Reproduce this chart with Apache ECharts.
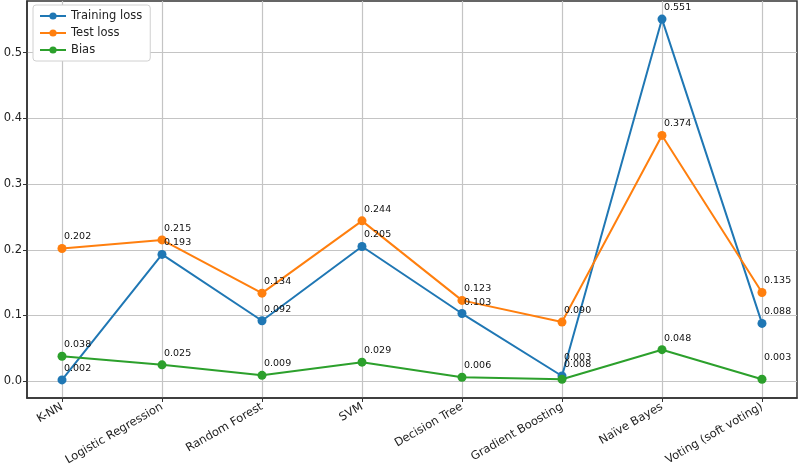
<!DOCTYPE html>
<html>
<head>
<meta charset="utf-8">
<script src="https://cdn.jsdelivr.net/npm/echarts@6/dist/echarts.min.js"></script>
<style>
  html, body { margin: 0; padding: 0; background: #fff; }
  #main { width: 800px; height: 469px; }
</style>
</head>
<body>
<div id="main"></div>
<script>
var categories = ['K-NN', 'Logistic Regression', 'Random Forest', 'SVM', 'Decision Tree', 'Gradient Boosting', 'Naïve Bayes', 'Voting (soft voting)'];
var trainingLoss = [0.002, 0.193, 0.092, 0.205, 0.103, 0.008, 0.551, 0.088];
var testLoss = [0.202, 0.215, 0.134, 0.244, 0.123, 0.090, 0.374, 0.135];
var bias = [0.038, 0.025, 0.009, 0.029, 0.006, 0.003, 0.048, 0.003];
var yTicks = [0.0, 0.1, 0.2, 0.3, 0.4, 0.5];

// 标注文字在这两个点上抬高一些(原图如此)
var labelLift = { 'Bias': { 5: -10, 7: -10 } };

var myChart = echarts.init(document.getElementById('main'));

function makeSeries(name, values, color) {
  var data = values.map(function (v, i) {
    var item = { value: [i, v] };
    if (labelLift[name] && labelLift[name][i] !== undefined) {
      item.label = { offset: [2, labelLift[name][i]] };
    }
    return item;
  });
  return {
    name: name,
    type: 'line',
    data: data,
    symbol: 'circle',
    symbolSize: 9,
    lineStyle: { color: color, width: 2 },
    itemStyle: { color: color },
    label: {
      show: true,
      position: 'top',
      distance: 2,
      align: 'left',
      offset: [2, 0],
      fontSize: 9.5,
      fontFamily: 'DejaVu Sans',
      color: '#111',
      formatter: function (p) { return p.value[1].toFixed(3); }
    },
    emphasis: { disabled: true },
    animation: false
  };
}

var option = {
  backgroundColor: '#fff',
  textStyle: { fontFamily: 'DejaVu Sans' },
  grid: {
    left: 27, right: 3, top: 1, bottom: 71,
    show: true, borderColor: '#333', borderWidth: 1.5, backgroundColor: 'transparent'
  },
  legend: {
    orient: 'vertical',
    left: 33, top: 5,
    padding: [5, 8, 5, 6],
    itemGap: 5,
    itemWidth: 26,
    itemHeight: 9,
    backgroundColor: '#fff',
    borderColor: '#d0d0d0',
    borderWidth: 1,
    borderRadius: 3,
    textStyle: { fontSize: 11.5, color: '#222', fontFamily: 'DejaVu Sans' },
    data: ['Training loss', 'Test loss', 'Bias']
  },
  xAxis: {
    type: 'value',
    min: -0.35,
    max: 7.35,
    axisLine: { onZero: false, lineStyle: { color: '#333', width: 1.5 } },
    axisTick: { show: true, length: 4, customValues: categories.map(function (c, i) { return i; }), lineStyle: { color: '#333' } },
    axisLabel: {
      customValues: categories.map(function (c, i) { return i; }),
      rotate: 30,
      fontSize: 11.5,
      color: '#222',
      margin: 8,
      formatter: function (v) { return categories[Math.round(v)]; }
    },
    splitLine: { show: true, lineStyle: { color: '#c4c4c4', width: 1.2 } }
  },
  yAxis: {
    type: 'value',
    min: -0.0255,
    max: 0.5785,
    axisLine: { show: true, onZero: false, lineStyle: { color: '#333', width: 1.5 } },
    axisTick: { show: true, length: 4, customValues: yTicks, lineStyle: { color: '#333' } },
    axisLabel: {
      customValues: yTicks,
      fontSize: 11.5,
      color: '#222',
      margin: 5,
      formatter: function (v) { return v.toFixed(1); }
    },
    splitLine: { show: true, lineStyle: { color: '#c4c4c4', width: 1.2 } }
  },
  series: [
    makeSeries('Training loss', trainingLoss, '#1f77b4'),
    makeSeries('Test loss', testLoss, '#ff7f0e'),
    makeSeries('Bias', bias, '#2ca02c')
  ]
};

myChart.setOption(option);
</script>
</body>
</html>
